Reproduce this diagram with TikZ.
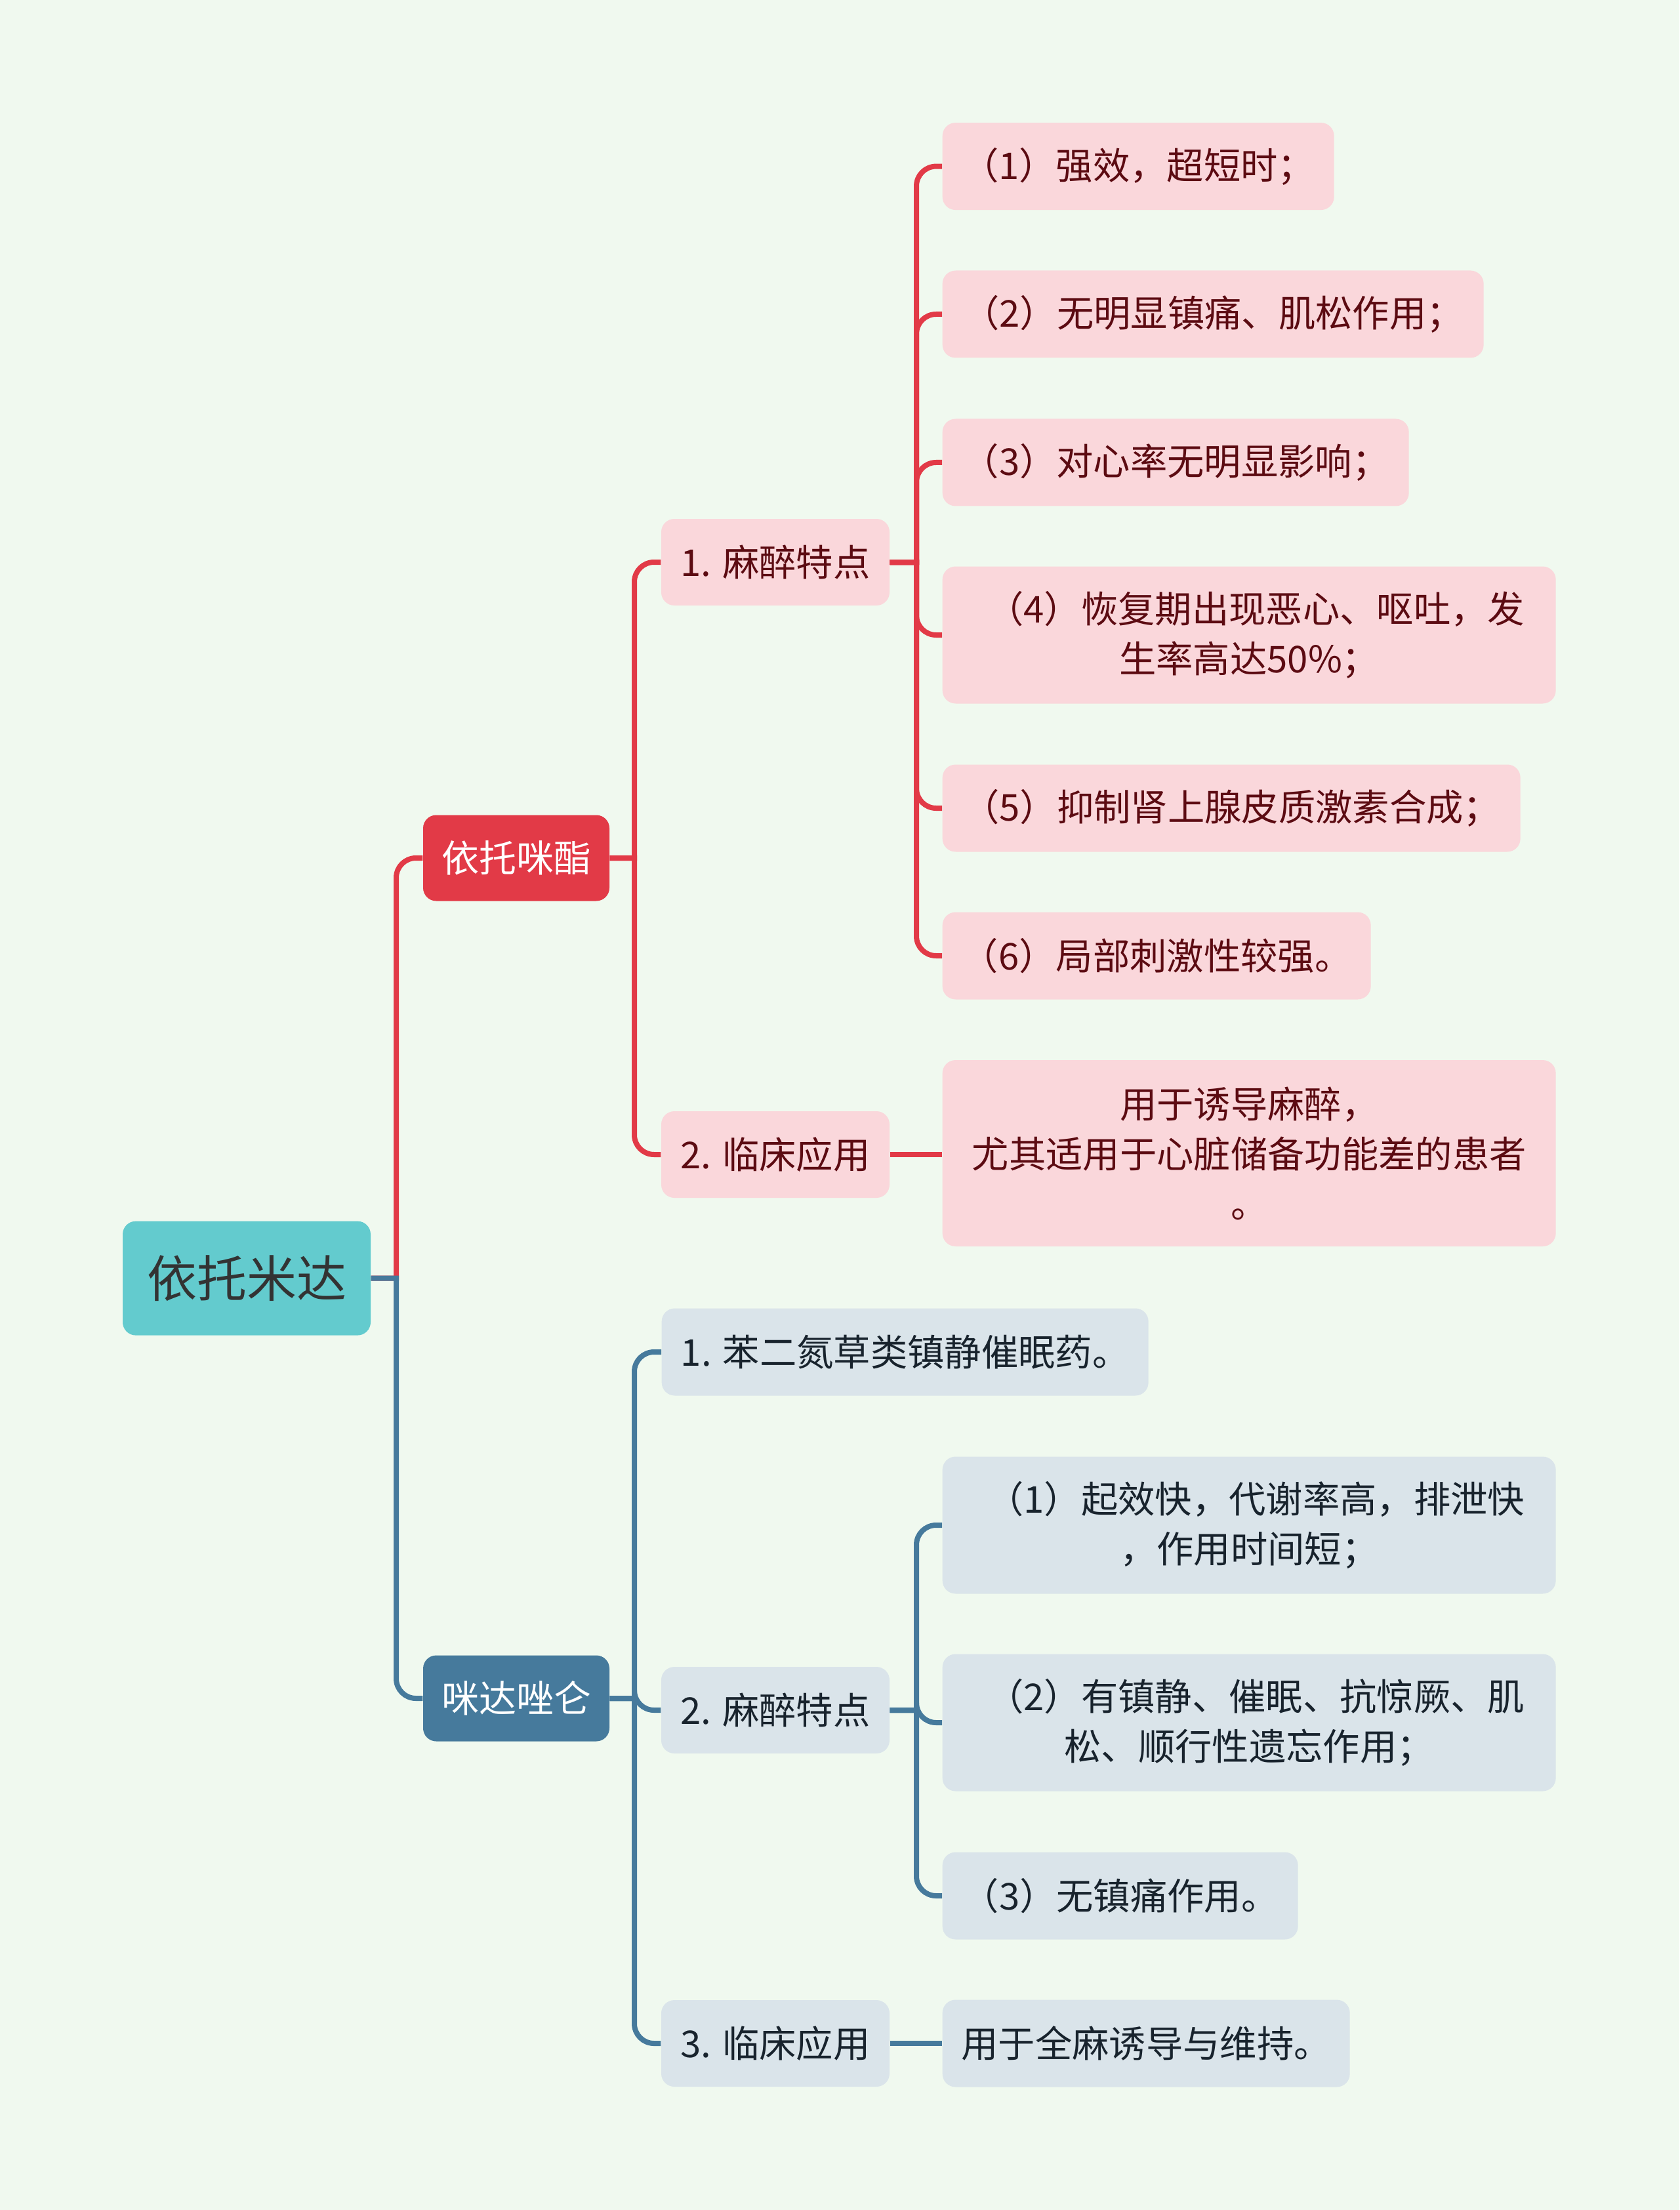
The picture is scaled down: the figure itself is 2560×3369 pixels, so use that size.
\documentclass[tikz,border=0pt]{standalone}
\usepackage{fontspec}
\setmainfont{Noto Sans CJK SC}
\definecolor{bgc}{HTML}{F0F9EF}
\definecolor{rootc}{HTML}{63CBCE}
\definecolor{redc}{HTML}{E23A47}
\definecolor{bluec}{HTML}{467A9C}
\definecolor{pinkf}{HTML}{FAD7DB}
\definecolor{bluef}{HTML}{DAE4EA}
\definecolor{redt}{HTML}{5C0B12}
\definecolor{bluet}{HTML}{18232D}
\definecolor{roott}{HTML}{333333}
\tikzset{
  nodebox/.style={rounded corners=6pt, inner sep=0pt, align=center},
  rootbox/.style={nodebox, fill=rootc, text=roott, minimum width=113.4pt, minimum height=52.2pt,
    font=\fontsize{22.8}{28}\selectfont},
  mainbox/.style={nodebox, minimum width=85.2pt, minimum height=39.3pt, text=white,
    font=\fontsize{17.1}{22}\selectfont},
  subbox/.style={nodebox, minimum width=104.4pt, minimum height=39.6pt,
    font=\fontsize{16.9}{22}\selectfont},
  leafbox/.style={nodebox, anchor=west, minimum height=39.9pt,
    font=\fontsize{16.9}{22.8}\selectfont},
  redsub/.style={fill=pinkf, text=redt},
  bluesub/.style={fill=bluef, text=bluet},
  redline/.style={draw=redc, line width=2.4pt},
  blueline/.style={draw=bluec, line width=2.4pt},
}
\begin{document}
\begin{tikzpicture}[x=0.3pt,y=-0.3pt]
\fill[bgc] (0,0) rectangle (2560,3369);
\useasboundingbox (0,0) rectangle (2560,3369);

% nodes
\node[rootbox] (root) at (376,1948.6) {依托米达};
\node[mainbox, fill=redc] (n1) at (787,1308) {依托咪酯};
\node[mainbox, fill=bluec] (n2) at (787,2589) {咪达唑仑};

\node[subbox, redsub] (a1) at (1182,857) {1. 麻醉特点};
\node[subbox, redsub] (a2) at (1182,1760) {2. 临床应用};

\node[leafbox, redsub, minimum width=179.1pt] (l1) at (1436,253.6) {（1）强效，超短时；};
\node[leafbox, redsub, minimum width=247.5pt] (l2) at (1436,479) {（2）无明显镇痛、肌松作用；};
\node[leafbox, redsub, minimum width=213.3pt] (l3) at (1436,705) {（3）对心率无明显影响；};
\node[leafbox, redsub, minimum width=280.5pt, minimum height=62.7pt] (l4) at (1436,968) {\hspace*{6pt}（4）恢复期出现恶心、呕吐，发\\生率高达50\%；};
\node[leafbox, redsub, minimum width=264.3pt] (l5) at (1436,1232) {（5）抑制肾上腺皮质激素合成；};
\node[leafbox, redsub, minimum width=195.9pt] (l6) at (1436,1457) {（6）局部刺激性较强。};
\node[leafbox, redsub, minimum width=280.5pt, minimum height=85.2pt] (lc) at (1436,1758) {用于诱导麻醉，\\尤其适用于心脏储备功能差的患者\\。};

\node[leafbox, bluesub, minimum width=222.6pt] (b1) at (1008,2061) {1. 苯二氮草类镇静催眠药。};
\node[subbox, bluesub] (b2) at (1182,2607) {2. 麻醉特点};
\node[subbox, bluesub] (b3) at (1182,3115) {3. 临床应用};

\node[leafbox, bluesub, minimum width=280.5pt, minimum height=62.7pt] (bl1) at (1436,2325) {\hspace*{6pt}（1）起效快，代谢率高，排泄快\\，作用时间短；};
\node[leafbox, bluesub, minimum width=280.5pt, minimum height=62.7pt] (bl2) at (1436,2626) {\hspace*{6pt}（2）有镇静、催眠、抗惊厥、肌\\松、顺行性遗忘作用；};
\node[leafbox, bluesub, minimum width=162.6pt] (bl3) at (1436,2890) {（3）无镇痛作用。};
\node[leafbox, bluesub, minimum width=186.3pt] (bl4) at (1436,3115) {用于全麻诱导与维持。};

% connectors: red group
\path[redline] (root.east) -- (604,1948.6) [rounded corners=9pt] -- (604,1308) -- (n1.west);
\foreach \c in {a1,a2}{
  \path[redline] (n1.east) -- (967,1308) [rounded corners=9pt] -- (967,0 |- \c.west) -- (\c.west);
}
\foreach \c in {l1,l2,l3,l4,l5,l6}{
  \path[redline] (a1.east) -- (1397,857) [rounded corners=9pt] -- (1397,0 |- \c.west) -- (\c.west);
}
\path[redline] (a2.east) -- (a2.east -| lc.west);

% connectors: blue group
\path[blueline] (root.east) -- (604,1948.6) [rounded corners=9pt] -- (604,2589) -- (n2.west);
\foreach \c in {b1,b2,b3}{
  \path[blueline] (n2.east) -- (967,2589) [rounded corners=9pt] -- (967,0 |- \c.west) -- (\c.west);
}
\foreach \c in {bl1,bl2,bl3}{
  \path[blueline] (b2.east) -- (1397,2607) [rounded corners=9pt] -- (1397,0 |- \c.west) -- (\c.west);
}
\path[blueline] (b3.east) -- (b3.east -| bl4.west);
\end{tikzpicture}
\end{document}
